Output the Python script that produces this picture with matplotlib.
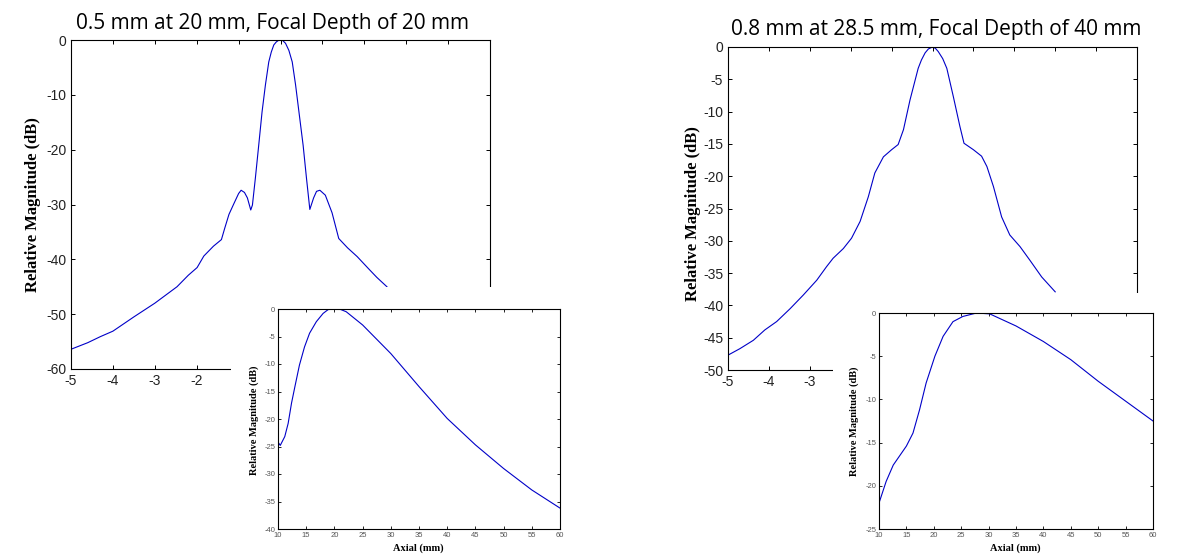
import matplotlib
matplotlib.use('Agg')
import matplotlib.pyplot as plt
from matplotlib.patches import Rectangle

# ── Style (MATLAB-like boxes, inward ticks) ────────────────────────────────────
plt.rcParams.update({
    'font.family': 'Liberation Sans',
    'axes.linewidth': 0.8,
    'axes.unicode_minus': False,
    'xtick.direction': 'in',
    'ytick.direction': 'in',
    'xtick.top': True,
    'ytick.right': True,
})

LINE = '#0000c8'
W, H = 1188, 559

# ── Panel 1: lateral profile (0.5 mm at 20 mm) ────────────────────────────────
lat1_x = [-5.0, -4.6, -4.3, -4.0, -3.5, -3.0, -2.47, -2.2, -1.99, -1.83, -1.6,
          -1.41, -1.33, -1.23, -1.11, -1.0, -0.94, -0.86, -0.79, -0.71, -0.67,
          -0.60, -0.52, -0.44, -0.36, -0.28, -0.22, -0.16, -0.1, -0.05, 0.0,
          0.05, 0.12, 0.2, 0.28, 0.36, 0.44, 0.54, 0.62, 0.70, 0.79, 0.86,
          0.94, 1.07, 1.23, 1.39, 1.6, 1.83, 2.1, 2.3, 2.54]
lat1_db = [-56.4, -55.2, -54.1, -53.1, -50.5, -48.0, -45.0, -42.9, -41.5, -39.4,
           -37.6, -36.4, -34.3, -31.8, -29.8, -28.0, -27.4, -27.8, -28.8, -31.0,
           -30.1, -25.2, -19.2, -13.1, -8.2, -4.0, -2.2, -0.9, -0.35, -0.08, 0.0,
           -0.08, -0.6, -1.9, -4.0, -8.2, -13.1, -19.2, -25.2, -30.9, -28.8,
           -27.6, -27.4, -28.3, -31.5, -36.2, -37.9, -39.5, -41.7, -43.3, -45.0]

# ── Panel 1 inset: axial profile ──────────────────────────────────────────────
ax1_x = [10.0, 10.4, 11.2, 11.8, 12.4, 13.0, 13.8, 14.7, 15.6, 16.8, 18.0,
         18.9, 20.0, 20.9, 22.1, 25.0, 30.0, 35.0, 40.0, 45.0, 50.0, 55.0, 60.0]
ax1_db = [-24.2, -24.8, -23.2, -20.8, -17.1, -14.1, -10.2, -6.9, -4.4, -2.3,
          -0.8, -0.1, 0.0, 0.0, -0.5, -2.9, -8.1, -14.1, -19.9, -24.7, -29.0,
          -32.9, -36.2]

# ── Panel 2: lateral profile (0.8 mm at 28.5 mm) ──────────────────────────────
lat2_x = [-5.0, -4.71, -4.38, -4.10, -3.81, -3.48, -3.16, -2.83, -2.59, -2.43,
          -2.18, -1.98, -1.77, -1.57, -1.41, -1.20, -1.0, -0.84, -0.71, -0.55,
          -0.35, -0.27, -0.18, -0.1, 0.0, 0.07, 0.14, 0.25, 0.35, 0.51, 0.67,
          0.77, 1.0, 1.2, 1.33, 1.49, 1.69, 1.89, 2.14, 2.38, 2.67, 3.0]
lat2_db = [-47.7, -46.7, -45.4, -43.8, -42.5, -40.5, -38.4, -36.1, -34.0, -32.7,
           -31.2, -29.6, -27.0, -23.2, -19.5, -17.0, -15.9, -15.1, -12.8, -8.2,
           -3.3, -2.0, -0.9, -0.3, 0.0, -0.2, -0.7, -1.8, -3.3, -7.7, -12.3,
           -14.9, -15.9, -16.9, -18.5, -21.6, -26.3, -29.1, -30.9, -33.0, -35.6,
           -37.9]

# ── Panel 2 inset: axial profile ──────────────────────────────────────────────
ax2_x = [10.0, 11.3, 12.6, 15.0, 16.2, 17.4, 18.6, 20.2, 21.7, 23.5, 25.3,
         27.8, 30.2, 32.6, 35.0, 40.0, 45.0, 50.0, 55.0, 60.0]
ax2_db = [-22.0, -19.5, -17.6, -15.4, -13.9, -11.2, -8.1, -5.0, -2.7, -1.0,
          -0.4, 0.0, -0.1, -0.8, -1.5, -3.3, -5.4, -7.9, -10.2, -12.5]


def px_rect(left, top, right, bottom):
    """Pixel box (image coords) -> figure fraction [l, b, w, h]."""
    return [left / W, 1 - bottom / H, (right - left) / W, (bottom - top) / H]


def main_axes(fig, box, x, y, yticks, ylim, ylab_coords, last_label):
    ax = fig.add_axes(px_rect(*box))
    ax.set_zorder(0)
    ax.plot(x, y, color=LINE, linewidth=0.8)
    ax.set_xlim(-5, 5)
    ax.set_ylim(*ylim)
    xt = list(range(-5, 6))
    ax.set_xticks(xt)
    # labels under the inset's white box are not shown
    ax.set_xticklabels([str(t) if t <= last_label else '' for t in xt])
    ax.set_yticks(yticks)
    ax.tick_params(length=3, width=0.7, labelsize=10, pad=3.5, labelcolor='#222222')
    ax.set_ylabel('Relative Magnitude (dB)', family='Liberation Serif',
                  fontweight='bold', fontsize=12, va='center')
    ax.yaxis.set_label_coords(*ylab_coords)
    return ax


def inset_axes(fig, box, x, y, yticks, ylim, xlab_coords, ylab_coords):
    ax = fig.add_axes(px_rect(*box))
    ax.set_zorder(2)
    ax.plot(x, y, color=LINE, linewidth=0.8)
    ax.set_xlim(10, 60)
    ax.set_ylim(*ylim)
    ax.set_xticks(range(10, 61, 5))
    ax.set_yticks(yticks)
    ax.tick_params(length=2, width=0.6, labelsize=5.5, pad=2, labelcolor='#555555')
    ax.set_xlabel('Axial (mm)', family='Liberation Serif', fontweight='bold',
                  fontsize=7.5, va='center')
    ax.set_ylabel('Relative Magnitude (dB)', family='Liberation Serif',
                  fontweight='bold', fontsize=7.5, va='center')
    ax.xaxis.set_label_coords(*xlab_coords)
    ax.yaxis.set_label_coords(*ylab_coords)
    return ax


fig = plt.figure(figsize=(W / 100, H / 100), dpi=100)
fig.patch.set_facecolor('white')

# left panel
main_axes(fig, (71, 40, 490, 369), lat1_x, lat1_db,
          range(0, -61, -10), (-60, 0), (-0.091, 0.5), -2)
fig.add_artist(Rectangle((231 / W, 0), (575 - 231) / W, (H - 287) / H,
                         transform=fig.transFigure, facecolor='white',
                         edgecolor='none', zorder=1))
inset_axes(fig, (278, 309, 560, 529), ax1_x, ax1_db,
           range(0, -41, -5), (-40, 0), (0.496, -0.088), (-0.083, 0.495))
fig.text(272 / W, 1 - 24 / H, '0.5 mm at 20 mm, Focal Depth of 20 mm',
         family='Open Sans', fontsize=15, ha='center', va='center')

# right panel
main_axes(fig, (728, 47, 1137, 370), lat2_x, lat2_db,
          range(0, -51, -5), (-50, 0), (-0.085, 0.483), -3)
fig.add_artist(Rectangle((833 / W, 0), (W - 833) / W, (H - 293) / H,
                         transform=fig.transFigure, facecolor='white',
                         edgecolor='none', zorder=1))
inset_axes(fig, (879, 313, 1153, 529), ax2_x, ax2_db,
           range(0, -26, -5), (-25, 0), (0.497, -0.087), (-0.089, 0.497))
fig.text(936 / W, 1 - 30 / H, '0.8 mm at 28.5 mm, Focal Depth of 40 mm',
         family='Open Sans', fontsize=15, ha='center', va='center')

fig.savefig('out.png', dpi=100)
